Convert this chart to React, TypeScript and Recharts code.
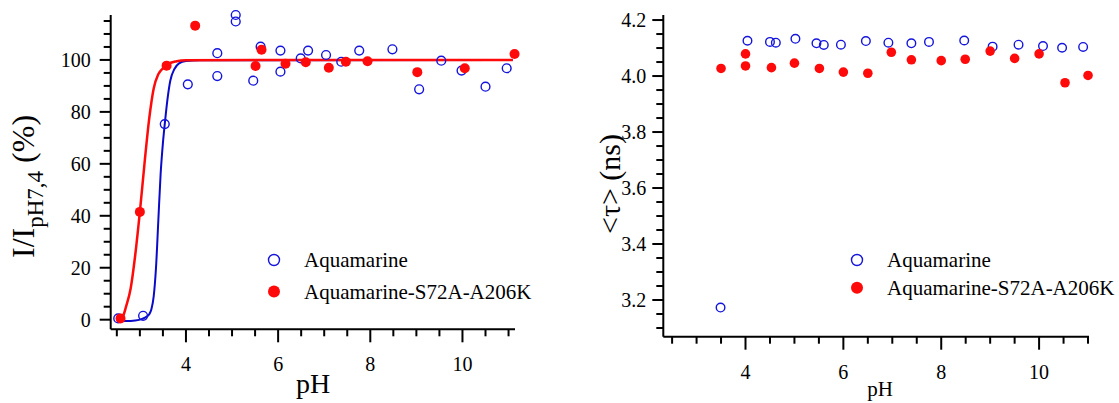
import React from "react";
import { ComposedChart, Line, Scatter, XAxis, YAxis, Legend } from "recharts";

const SERIF = "'Liberation Serif', 'Times New Roman', serif";
const BLUE = "#1414dc";
const BLUE_LINE = "#0a0ac8";
const RED = "#ff0a0a";

// left panel: normalised intensity vs pH
const aquaPh = [2.53, 3.07, 3.54, 4.04, 4.68, 4.68, 5.08, 5.08, 5.46, 5.62, 6.05, 6.05, 6.49, 6.65, 7.04, 7.37, 7.76, 8.48, 9.06, 9.54, 9.98, 10.5, 10.96];
const aquaIntensity = [0.5, 1.5, 75.3, 90.6, 102.6, 93.8, 117.3, 114.8, 92, 105.1, 103.6, 95.5, 100.6, 103.6, 101.9, 99.3, 103.6, 104.1, 88.7, 99.7, 95.9, 89.7, 96.8];
const mutPh = [2.58, 3.0, 3.58, 4.2, 5.51, 5.64, 6.16, 6.6, 7.1, 7.47, 7.94, 9.02, 10.05, 11.13];
const mutIntensity = [0.5, 41.5, 97.8, 113.2, 97.7, 103.9, 98.5, 99.1, 97.0, 99.3, 99.5, 95.3, 96.8, 102.3];

// fitted titration curves
const aquaFitPh = [2.5, 2.7, 2.9, 3.05, 3.15, 3.2, 3.25, 3.3, 3.35, 3.4, 3.45, 3.5, 3.55, 3.6, 3.66, 3.75, 3.85, 4.0, 4.3, 11.09];
const aquaFitI = [-0.5, -0.5, -0.3, 0.3, 1.2, 2, 4, 9, 20, 38, 56, 68, 77, 85, 92, 96.5, 98.7, 99.6, 99.9, 100];
const mutFitPh = [2.58, 2.65, 2.7, 2.8, 2.9, 3.0, 3.1, 3.2, 3.3, 3.4, 3.5, 3.6, 3.8, 4.0, 11.09];
const mutFitI = [0.3, 2, 5, 12, 25, 41.5, 60, 77, 89, 94.5, 96.8, 98.3, 99.5, 99.9, 100];

// right panel: mean lifetime vs pH
const aquaTauPh = [3.49, 4.04, 4.5, 4.62, 5.02, 5.45, 5.6, 5.95, 6.46, 6.92, 7.39, 7.75, 8.47, 9.05, 9.58, 10.08, 10.47, 10.9];
const aquaTau = [3.173, 4.126, 4.122, 4.119, 4.133, 4.117, 4.111, 4.112, 4.125, 4.119, 4.117, 4.122, 4.127, 4.105, 4.112, 4.107, 4.101, 4.104];
const mutTauPh = [3.5, 4.0, 4.0, 4.53, 5.0, 5.51, 6.0, 6.5, 6.98, 7.39, 8.0, 8.49, 9.0, 9.5, 10.0, 10.53, 11.0];
const mutTau = [4.027, 4.079, 4.036, 4.03, 4.046, 4.027, 4.014, 4.01, 4.085, 4.058, 4.055, 4.06, 4.089, 4.063, 4.079, 3.976, 4.002];

const phTicks = [2.5, 3, 3.5, 4, 4.5, 5, 5.5, 6, 6.5, 7, 7.5, 8, 8.5, 9, 9.5, 10, 10.5, 11];
const phLabels = [4, 6, 8, 10];
const intensityTicks = [0, 5, 10, 15, 20, 25, 30, 35, 40, 45, 50, 55, 60, 65, 70, 75, 80, 85, 90, 95, 100, 105, 110, 115];
const intensityLabels = [0, 20, 40, 60, 80, 100];
const tauTicks = [3.1, 3.15, 3.2, 3.25, 3.3, 3.35, 3.4, 3.45, 3.5, 3.55, 3.6, 3.65, 3.7, 3.75, 3.8, 3.85, 3.9, 3.95, 4.0, 4.05, 4.1, 4.15, 4.2];
const tauLabels = [3.2, 3.4, 3.6, 3.8, 4.0, 4.2];

const zip = (xs: number[], ys: number[]) => xs.map((x, i) => ({ x, y: ys[i] }));

const isIn = (list: number[], v: number) => list.some((l) => Math.abs(l - v) < 1e-6);

function xTick(labels: number[]) {
  return (props: any) => {
    const { x, y, payload } = props;
    const major = isIn(labels, payload.value);
    return (
      <g>
        <line x1={x} x2={x} y1={y} y2={y + (major ? 13 : 7)} stroke="#000" strokeWidth={2} />
        {major && (
          <text x={x} y={y + 42} textAnchor="middle" fontSize={20} fontFamily={SERIF} fill="#000">
            {payload.value}
          </text>
        )}
      </g>
    );
  };
}

function yTick(labels: number[], gap: number, digits: number) {
  return (props: any) => {
    const { x, y, payload } = props;
    const major = isIn(labels, payload.value);
    return (
      <g>
        <line x1={x} x2={x - (major ? 11 : 7)} y1={y} y2={y} stroke="#000" strokeWidth={2} />
        {major && (
          <text x={x - gap} y={y + 7} textAnchor="end" fontSize={20} fontFamily={SERIF} fill="#000">
            {payload.value.toFixed(digits)}
          </text>
        )}
      </g>
    );
  };
}

const OpenDot = (r: number) => (p: any) => (
  <circle cx={p.cx} cy={p.cy} r={r} fill="none" stroke={BLUE} strokeWidth={1.4} />
);
const FullDot = (r: number) => (p: any) => <circle cx={p.cx} cy={p.cy} r={r} fill={RED} />;

function KeyBox({ gap }: { gap: number }) {
  return (
    <svg width={290} height={40 + gap} style={{ overflow: "visible" }}>
      <circle cx={14} cy={20} r={5.5} fill="none" stroke={BLUE} strokeWidth={1.4} />
      <text x={44} y={27} fontSize={21} fontFamily={SERIF} fill="#000">Aquamarine</text>
      <circle cx={14} cy={20 + gap} r={6} fill={RED} />
      <text x={44} y={27 + gap} fontSize={21} fontFamily={SERIF} fill="#000">Aquamarine-S72A-A206K</text>
    </svg>
  );
}

const axisLine = { stroke: "#000", strokeWidth: 2 };

export default function App() {
  return (
    <div style={{ position: "absolute", left: 0, top: 0, width: 1119, height: 403, background: "#fff" }}>
      <div style={{ position: "absolute", left: 0, top: 0 }}>
        <ComposedChart width={560} height={403} margin={{ top: 15, right: 45, bottom: 0, left: 0 }}>
          <XAxis
            type="number"
            dataKey="x"
            domain={[2.367, 11.14]}
            ticks={phTicks}
            interval={0}
            tickSize={0}
            tickMargin={0}
            tickLine={false}
            axisLine={axisLine}
            height={73.7}
            tick={xTick(phLabels)}
            label={() => (
              <text x={313} y={393} textAnchor="middle" fontSize={28} fontFamily={SERIF} fill="#000">pH</text>
            )}
          />
          <YAxis
            type="number"
            dataKey="y"
            domain={[-3.7, 117.3]}
            ticks={intensityTicks}
            interval={0}
            tickSize={0}
            tickMargin={0}
            tickLine={false}
            axisLine={axisLine}
            width={110.7}
            tick={yTick(intensityLabels, 20, 0)}
            label={() => (
              <text transform="rotate(-90, 34, 258)" x={34} y={258} fontSize={32} fontFamily={SERIF} fill="#000">
                <tspan>I/I</tspan>
                <tspan dy={9} fontSize={23}>pH7,4</tspan>
                <tspan dy={-9}> (%)</tspan>
              </text>
            )}
          />
          <Line data={zip(aquaFitPh, aquaFitI)} dataKey="y" type="monotone" stroke={BLUE_LINE} strokeWidth={2} dot={false} isAnimationActive={false} legendType="none" />
          <Line data={zip(mutFitPh, mutFitI)} dataKey="y" type="monotone" stroke={RED} strokeWidth={2.5} dot={false} isAnimationActive={false} legendType="none" />
          <Scatter data={zip(aquaPh, aquaIntensity)} dataKey="y" shape={OpenDot(4.4)} isAnimationActive={false} />
          <Scatter data={zip(mutPh, mutIntensity)} dataKey="y" shape={FullDot(5)} isAnimationActive={false} />
          <Legend
            layout="horizontal"
            verticalAlign="middle"
            align="center"
            wrapperStyle={{ left: 260, top: 240, width: 290, height: 72 }}
            content={() => <KeyBox gap={31.5} />}
          />
        </ComposedChart>
      </div>
      <div style={{ position: "absolute", left: 560, top: 0 }}>
        <ComposedChart width={559} height={403} margin={{ top: 15, right: 30, bottom: 0, left: 0 }}>
          <XAxis
            type="number"
            dataKey="x"
            domain={[2.32, 11.02]}
            ticks={phTicks}
            interval={0}
            tickSize={0}
            tickMargin={0}
            tickLine={false}
            axisLine={axisLine}
            height={66.3}
            tick={xTick(phLabels)}
            label={() => (
              <text x={320} y={396} textAnchor="middle" fontSize={21} fontFamily={SERIF} fill="#000">pH</text>
            )}
          />
          <YAxis
            type="number"
            dataKey="y"
            domain={[3.069, 4.218]}
            ticks={tauTicks}
            interval={0}
            tickSize={0}
            tickMargin={0}
            tickLine={false}
            axisLine={axisLine}
            width={103.3}
            tick={yTick(tauLabels, 17, 1)}
            label={() => (
              <text transform="rotate(-90, 60, 184)" x={60} y={184} textAnchor="middle" fontSize={30} fontFamily={SERIF} fill="#000">
                {"<τ> (ns)"}
              </text>
            )}
          />
          <Scatter data={zip(aquaTauPh, aquaTau)} dataKey="y" shape={OpenDot(4.3)} isAnimationActive={false} />
          <Scatter data={zip(mutTauPh, mutTau)} dataKey="y" shape={FullDot(4.8)} isAnimationActive={false} />
          <Legend
            layout="horizontal"
            verticalAlign="middle"
            align="center"
            wrapperStyle={{ left: 283, top: 240, width: 290, height: 72 }}
            content={() => <KeyBox gap={27.7} />}
          />
        </ComposedChart>
      </div>
    </div>
  );
}
